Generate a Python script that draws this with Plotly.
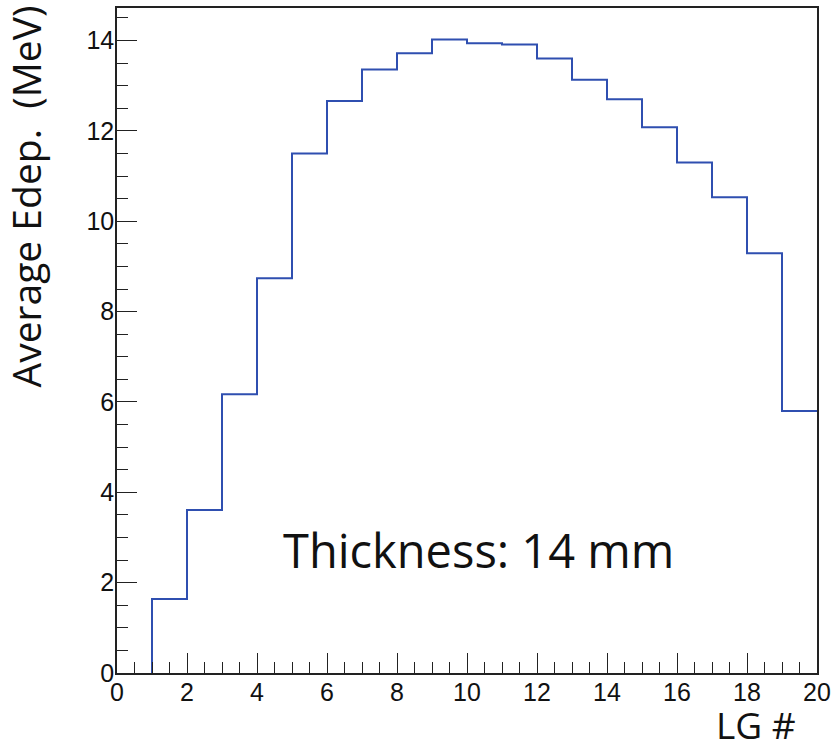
import plotly.graph_objects as go

# Bin edges (LG #) and average energy deposit per bin (MeV)
bin_edges = list(range(0, 21))
edep_mev = [0.0, 1.64, 3.61, 6.17, 8.74, 11.50, 12.66, 13.36, 13.72, 14.02,
            13.94, 13.91, 13.60, 13.13, 12.70, 12.08, 11.30, 10.53, 9.29, 5.80]

x_title = "LG #"
y_title = "Average Edep.  (MeV)"
label_text = "Thickness: 14 mm"

# build a step outline starting at the first non-empty bin (ROOT-like)
first = next(i for i, v in enumerate(edep_mev) if v > 0)
xs = [bin_edges[first]] + bin_edges[first:]
ys = [0.0] + edep_mev[first:] + [edep_mev[-1]]

fig = go.Figure()
fig.add_trace(go.Scatter(
    x=xs, y=ys, mode="lines", line_shape="hv",
    line=dict(color="#2f4fb0", width=2), hoverinfo="skip", showlegend=False,
))

L, R, T, B = 117, 15, 8, 80
W, H = 832, 753
pw = W - L - R
ph = H - T - B

axis_common = dict(
    showline=True, linecolor="#222", linewidth=1.5, mirror=True,
    ticks="inside", ticklen=20, tickwidth=1.3, tickcolor="#222",
    showgrid=False, zeroline=False, automargin=False,
    tickfont=dict(family="Liberation Sans, Arial, sans-serif", size=25, color="#111"),
)

fig.update_xaxes(
    range=[0, 20], dtick=2, tick0=0,
    minor=dict(dtick=0.5, ticks="inside", ticklen=11, tickwidth=1.3, tickcolor="#222"),
    ticklabelstandoff=-4,
    **axis_common,
)
fig.update_yaxes(
    range=[0, 14.72], dtick=2, tick0=0,
    minor=dict(dtick=0.5, ticks="inside", ticklen=11, tickwidth=1.3, tickcolor="#222"),
    ticklabelstandoff=-4,
    **axis_common,
)

title_font = dict(family="Open Sans, Noto Sans, sans-serif", size=39, color="#111")

fig.add_annotation(
    text=y_title, xref="paper", yref="paper",
    x=(-4 - L) / pw, y=1 + (T - 4) / ph,
    xanchor="left", yanchor="top", textangle=-90,
    showarrow=False, font=title_font,
)
fig.add_annotation(
    text=x_title, xref="paper", yref="paper",
    x=(798 - L) / pw, y=-(H - 1 - (H - B)) / ph,
    xanchor="right", yanchor="bottom",
    showarrow=False, font=dict(family="Open Sans, Noto Sans, sans-serif", size=37, color="#111"),
)
fig.add_annotation(
    text=label_text, xref="x", yref="y",
    x=4.68, y=2.72, xanchor="left", yanchor="middle",
    showarrow=False,
    font=dict(family="Open Sans, Noto Sans, sans-serif", size=47, color="#111"),
)

fig.update_layout(
    width=W, height=H,
    margin=dict(l=L, r=R, t=T, b=B),
    paper_bgcolor="white", plot_bgcolor="white",
)

fig.write_html("out.html")
